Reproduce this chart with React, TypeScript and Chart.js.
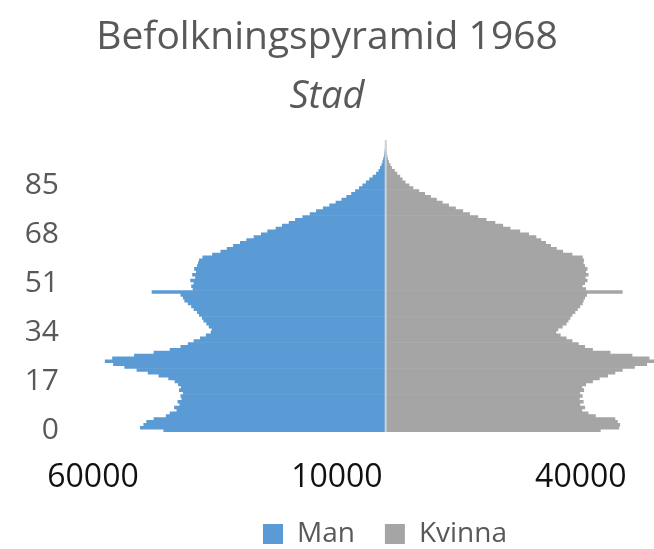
import React, { useEffect, useRef } from 'react';
import { Chart, registerables } from 'chart.js';

Chart.register(...registerables);

const ages = [
  '0', '1', '2', '3', '4', '5', '6', '7', '8', '9',
  '10', '11', '12', '13', '14', '15', '16', '17', '18', '19',
  '20', '21', '22', '23', '24', '25', '26', '27', '28', '29',
  '30', '31', '32', '33', '34', '35', '36', '37', '38', '39',
  '40', '41', '42', '43', '44', '45', '46', '47', '48', '49',
  '50', '51', '52', '53', '54', '55', '56', '57', '58', '59',
  '60', '61', '62', '63', '64', '65', '66', '67', '68', '69',
  '70', '71', '72', '73', '74', '75', '76', '77', '78', '79',
  '80', '81', '82', '83', '84', '85', '86', '87', '88', '89',
  '90', '91', '92', '93', '94', '95', '96', '97', '98', '99',
  '100',
];

// Men per age (drawn to the left)
const menValues = [
  45500, 50300, 49600, 49000, 47500, 45000, 44200, 42800, 43300, 42200,
  42600, 41800, 42000, 41500, 42300, 41900, 42500, 43200, 44500, 46500,
  48700, 51000, 53500, 55800, 57500, 56000, 51500, 47500, 44200, 42000,
  40500, 39300, 38000, 36800, 35800, 35600, 36200, 36700, 37300, 37600,
  38200, 38600, 39300, 39800, 40500, 41200, 41500, 42000, 47900, 39500,
  39800, 39300, 40000, 39000, 39600, 38800, 39200, 38600, 38400, 38200,
  37500, 35500, 33800, 32500, 31200, 29800, 28500, 27000, 25500, 24200,
  22500, 21200, 19800, 18500, 17000, 15500, 14200, 12800, 11500, 10200,
  9000, 8000, 7000, 6200, 5400, 4700, 4000, 3300, 2600, 1900,
  1400, 1100, 800, 600, 450, 300, 200, 130, 80, 50,
  30,
];

// Women per age (drawn to the right)
const womenValues = [
  44000, 47800, 48000, 47500, 47000, 43000, 41500, 40200, 40800, 39800,
  40500, 39700, 40300, 39800, 40600, 40200, 41000, 42400, 43800, 45500,
  47000, 48500, 51000, 53500, 55000, 54000, 50500, 46000, 42400, 40800,
  39500, 38200, 37000, 35800, 34900, 35300, 36200, 37000, 37400, 37800,
  38200, 38800, 39300, 39800, 40300, 40500, 40800, 41200, 48500, 41000,
  40300, 40800, 41300, 40900, 41500, 41000, 41300, 40800, 40500, 40600,
  40300, 38200, 36300, 35000, 33800, 32800, 31800, 30800, 29300, 27500,
  25500, 24000, 22400, 20600, 18900, 17200, 15800, 14300, 12900, 11600,
  10400, 9200, 8000, 6800, 5600, 4800, 4000, 3400, 2900, 2300,
  1800, 1200, 900, 600, 400, 280, 180, 110, 70, 40,
  20,
];

const ageTickLabels = ['0', '17', '34', '51', '68', '85'];
const xTickValues = [-60000, -10000, 40000];
const seriesNames = ['Man', 'Kvinna'];
const titleText = 'Befolkningspyramid 1968';
const subtitleText = 'Stad';

const FONT = "'Open Sans', sans-serif";

export default function App() {
  const ref = useRef<HTMLCanvasElement | null>(null);

  useEffect(() => {
    if (!ref.current) return;

    const centerLine = {
      id: 'centerLine',
      afterDatasetsDraw(chart: any) {
        const { ctx, chartArea, scales } = chart;
        const x = scales.x.getPixelForValue(0);
        ctx.save();
        ctx.strokeStyle = '#D0D0D0';
        ctx.lineWidth = 2;
        ctx.beginPath();
        ctx.moveTo(x, chartArea.top);
        ctx.lineTo(x, chartArea.bottom);
        ctx.stroke();
        ctx.restore();
      },
    };

    const legendShift = {
      id: 'legendShift',
      afterLayout(chart: any) {
        const lg = chart.legend;
        if (lg) {
          lg.left += 58;
          lg.right += 58;
        }
      },
    };

    const chart = new Chart(ref.current, {
      type: 'bar',
      data: {
        labels: ages,
        datasets: [
          {
            label: seriesNames[0],
            data: menValues.map((v) => -v),
            backgroundColor: '#5B9BD5',
            borderWidth: 0,
            barPercentage: 1,
            categoryPercentage: 1,
          },
          {
            label: seriesNames[1],
            data: womenValues,
            backgroundColor: '#A5A5A5',
            borderWidth: 0,
            barPercentage: 1,
            categoryPercentage: 1,
          },
        ],
      },
      options: {
        indexAxis: 'y',
        responsive: true,
        maintainAspectRatio: false,
        animation: false,
        layout: { padding: 0 },
        scales: {
          x: {
            type: 'linear',
            stacked: true,
            min: -60000,
            max: 55000,
            grid: { display: false, drawTicks: false },
            border: { display: false },
            afterBuildTicks: (s: any) => {
              s.ticks = xTickValues.map((v) => ({ value: v }));
            },
            afterFit: (s: any) => {
              s.height = 58;
              s.paddingLeft = 0;
              s.paddingRight = 0;
            },
            ticks: {
              color: '#111111',
              font: { family: FONT, size: 32 },
              padding: 27,
              maxRotation: 0,
              autoSkip: false,
              callback: (v: any) => String(Math.abs(Number(v))),
            },
          },
          y: {
            type: 'category',
            stacked: true,
            reverse: true,
            grid: { display: false, drawTicks: false },
            border: { display: false },
            afterFit: (s: any) => {
              s.width = 93;
              s.paddingTop = 0;
              s.paddingBottom = 0;
            },
            ticks: {
              autoSkip: false,
              color: '#595959',
              font: { family: FONT, size: 30 },
              padding: 34,
              callback: (_v: any, i: number) => {
                const l = ages[i];
                return ageTickLabels.includes(l) ? l : '';
              },
            },
          },
        },
        plugins: {
          title: {
            display: true,
            text: titleText,
            color: '#595959',
            font: { family: FONT, size: 39, weight: 'normal' },
            padding: { top: 14, bottom: 0 },
          },
          subtitle: {
            display: true,
            text: subtitleText,
            color: '#595959',
            font: { family: FONT, size: 38, style: 'italic', weight: 'normal' },
            padding: { top: 14, bottom: 20 },
          },
          legend: {
            position: 'bottom',
            maxHeight: 59,
            labels: {
              color: '#595959',
              font: { family: FONT, size: 28 },
              boxWidth: 20,
              boxHeight: 20,
              padding: 30,
            },
          },
          tooltip: { enabled: false },
        },
      },
      plugins: [centerLine, legendShift],
    } as any);

    return () => chart.destroy();
  }, []);

  return (
    <div style={{ position: 'absolute', left: 0, top: 0, width: 654, height: 549 }}>
      <canvas ref={ref} />
    </div>
  );
}
